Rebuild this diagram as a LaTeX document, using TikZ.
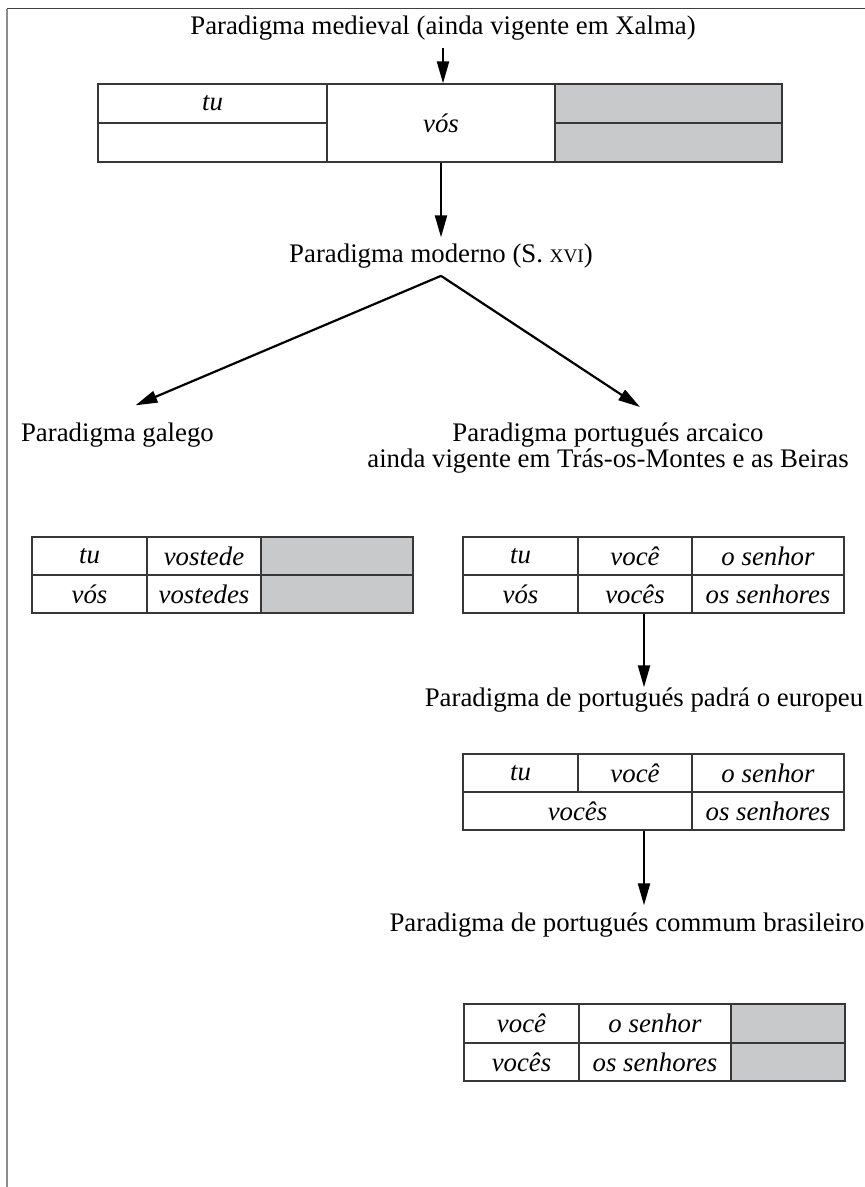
\documentclass[tikz,border=0pt]{standalone}
\usepackage{fontspec}
\setmainfont{Liberation Serif}
\usetikzlibrary{arrows.meta}
\definecolor{cellgray}{RGB}{200,201,203}
\definecolor{rulegray}{RGB}{55,55,55}
\newcommand{\fakesc}[1]{{\fontsize{9.6}{10}\selectfont #1}}

\begin{document}
\begin{tikzpicture}[x=0.5pt, y=-0.5pt, >={Triangle[length=11pt,width=6pt]},
  font=\fontsize{13.4}{13}\selectfont,
  cell/.style={draw=rulegray, line width=0.6pt, inner sep=0pt,
    font=\fontsize{13.4}{13}\selectfont\itshape},
  shaded/.style={cell, fill=cellgray},
  lbl/.style={anchor=base},
  arr/.style={->, line width=1.1pt}]
  \useasboundingbox (0,0) rectangle (865,1187);

  % frame
  \draw[black!75, line width=0.5pt] (7,9) -- (865,9);
  \draw[black!45, line width=1pt] (7,9) -- (7,1187);

  % medieval paradigm
  \node[lbl] (medieval) at (443,35) {Paradigma medieval (ainda vigente em Xalma)};
  \node[cell, minimum width=114.5pt, minimum height=19.5pt] (m1) at (212.5,103.5) {tu};
  \node[cell, minimum width=114.5pt, minimum height=19.5pt] (m2) at (212.5,142.5) {};
  \node[cell, minimum width=114pt, minimum height=39pt] (m3) at (441,123) {vós};
  \node[shaded, minimum width=113.5pt, minimum height=19.5pt] (m4) at (668.5,103.5) {};
  \node[shaded, minimum width=113.5pt, minimum height=19.5pt] (m5) at (668.5,142.5) {};

  \node[lbl] (moderno) at (441,263) {Paradigma moderno (S. \fakesc{XVI})};

  % the two branches
  \node[lbl, anchor=base west] (galego) at (14,441) {Paradigma galego};
  \node[align=center, anchor=north] (arcaico) at (608,416)
    {Paradigma portugués arcaico\\ ainda vigente em Trás-os-Montes e as Beiras};

  % galego table
  \node[cell, minimum width=57.5pt, minimum height=19pt] (g1) at (89.5,556) {tu};
  \node[cell, minimum width=57pt, minimum height=19pt] (g2) at (204,556) {vostede};
  \node[shaded, minimum width=76pt, minimum height=19pt] (g3) at (337,556) {};
  \node[cell, minimum width=57.5pt, minimum height=19pt] (g4) at (89.5,594) {vós};
  \node[cell, minimum width=57pt, minimum height=19pt] (g5) at (204,594) {vostedes};
  \node[shaded, minimum width=76pt, minimum height=19pt] (g6) at (337,594) {};

  % archaic portuguese table
  \node[cell, minimum width=57.5pt, minimum height=19pt] (a1) at (520.5,556) {tu};
  \node[cell, minimum width=57pt, minimum height=19pt] (a2) at (635,556) {você};
  \node[cell, minimum width=76pt, minimum height=19pt] (a3) at (768,556) {o senhor};
  \node[cell, minimum width=57.5pt, minimum height=19pt] (a4) at (520.5,594) {vós};
  \node[cell, minimum width=57pt, minimum height=19pt] (a5) at (635,594) {vocês};
  \node[cell, minimum width=76pt, minimum height=19pt] (a6) at (768,594) {os senhores};

  % european portuguese
  \node[lbl] (europeu) at (644,706) {Paradigma de portugués padrá o europeu};
  \node[cell, minimum width=57.5pt, minimum height=19pt] (e1) at (520.5,773) {tu};
  \node[cell, minimum width=57pt, minimum height=19pt] (e2) at (635,773) {você};
  \node[cell, minimum width=76pt, minimum height=19pt] (e3) at (768,773) {o senhor};
  \node[cell, minimum width=114.5pt, minimum height=19pt] (e4) at (577.5,811) {vocês};
  \node[cell, minimum width=76pt, minimum height=19pt] (e5) at (768,811) {os senhores};

  % brazilian portuguese
  \node[lbl] (brasil) at (627,931) {Paradigma de portugués commum brasileiro};
  \node[cell, minimum width=57.5pt, minimum height=19.5pt] (b1) at (521.5,1023.5) {você};
  \node[cell, minimum width=76pt, minimum height=19.5pt] (b2) at (655,1023.5) {o senhor};
  \node[shaded, minimum width=57pt, minimum height=19.5pt] (b3) at (788,1023.5) {};
  \node[cell, minimum width=57.5pt, minimum height=19pt] (b4) at (521.5,1062) {vocês};
  \node[cell, minimum width=76pt, minimum height=19pt] (b5) at (655,1062) {os senhores};
  \node[shaded, minimum width=57pt, minimum height=19pt] (b6) at (788,1062) {};

  % arrows
  \draw[arr] (medieval.south) -- (medieval.south |- m3.north);
  \draw[arr] (m3.south) -- (moderno.north);
  \draw[arr] (moderno.south) -- ([xshift=9pt, yshift=5pt]galego.north);
  \draw[arr] (moderno.south) -- ([xshift=16pt, yshift=4.5pt]arcaico.north);
  \draw[arr] (a5.south -| europeu.north) -- ([yshift=-3.5pt]europeu.north);
  \draw[arr] (e4.south -| europeu.north) -- (brasil.north -| europeu.north);
\end{tikzpicture}
\end{document}
